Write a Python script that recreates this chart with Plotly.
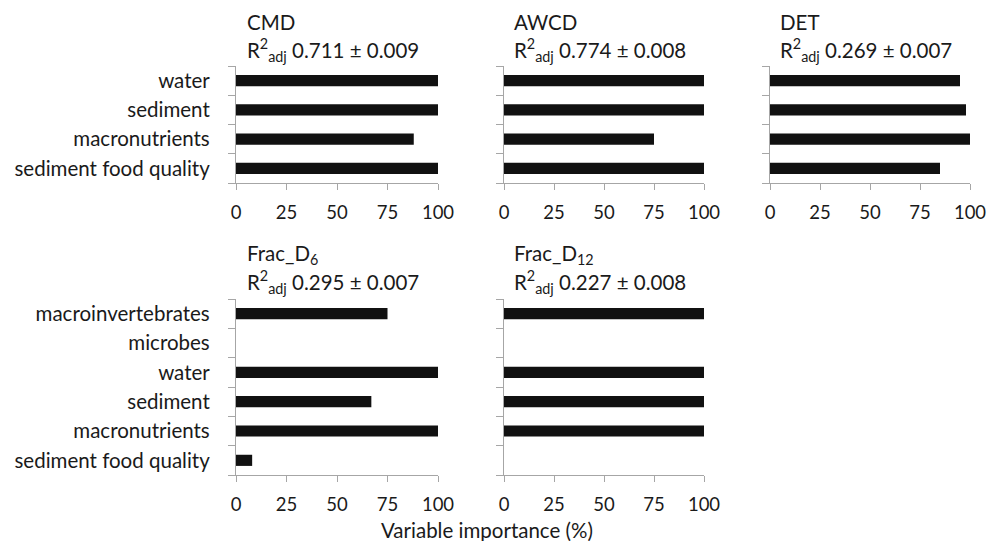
import plotly.graph_objects as go

W, H = 987, 541

cats_top = ["water", "sediment", "macronutrients", "sediment food quality"]
cats_bot = ["macroinvertebrates", "microbes", "water", "sediment", "macronutrients", "sediment food quality"]

cmd_vals = [100, 100, 88, 100]
awcd_vals = [100, 100, 75, 100]
det_vals = [95, 98, 100, 85]
d6_vals = [75, 0, 100, 67, 100, 8]
d12_vals = [100, 0, 100, 100, 100, 0]

names = ["CMD", "AWCD", "DET", "Frac_D<sub>6</sub>", "Frac_D<sub>12</sub>"]
r2 = ["0.711 ± 0.009", "0.774 ± 0.008", "0.269 ± 0.007", "0.295 ± 0.007", "0.227 ± 0.008"]
x_ticks = [0, 25, 50, 75, 100]

FONT = "Lato, Open Sans, sans-serif"
FS = 20.5
FSX = 18.5
TXT = "#1a1a1a"
AX = "#a6a6a6"

# panel pixel boxes: (x0, x1, ytop, ybottom)
panels = [
    (236, 438, 66, 183, cats_top, cmd_vals, True),
    (504, 704, 66, 183, cats_top, awcd_vals, False),
    (770, 970, 66, 183, cats_top, det_vals, False),
    (236, 438, 299, 475, cats_bot, d6_vals, True),
    (504, 704, 299, 475, cats_bot, d12_vals, False),
]

fig = go.Figure()
layout = {}
for i, (x0, x1, yt, yb, cats, vals, showlab) in enumerate(panels):
    k = "" if i == 0 else str(i + 1)
    fig.add_trace(go.Bar(
        x=vals, y=cats, orientation="h",
        marker=dict(color="#111111", line=dict(width=0)),
        width=0.38, xaxis="x" + k, yaxis="y" + k, showlegend=False,
    ))
    layout["xaxis" + k] = dict(
        domain=[x0 / W, x1 / W], anchor="y" + k, range=[0, 100],
        tickvals=x_ticks, ticks="outside", ticklen=6, tickcolor=AX,
        showline=True, linecolor=AX, linewidth=1.3, showgrid=False, zeroline=False,
        tickfont=dict(family=FONT, size=FSX, color=TXT), ticklabelstandoff=7,
        automargin=False,
    )
    layout["yaxis" + k] = dict(
        domain=[1 - yb / H, 1 - yt / H], anchor="x" + k,
        type="category", categoryorder="array", categoryarray=list(reversed(cats)),
        range=[-0.5, len(cats) - 0.5],
        tickson="boundaries", ticks="outside", ticklen=7, tickcolor=AX,
        showline=True, linecolor=AX, linewidth=1.3, showgrid=False, zeroline=False,
        showticklabels=showlab, automargin=False,
        tickfont=dict(family=FONT, size=FS, color=TXT), ticklabelstandoff=21,
    )

ann = []
title_pos = [(245, 22, 50), (512, 22, 50), (778, 22, 50), (245, 255, 282), (512, 255, 282)]
for (tx, ty1, ty2), nm, rv in zip(title_pos, names, r2):
    ann.append(dict(x=tx / W, y=1 - ty1 / H, xref="paper", yref="paper", text=nm,
                    showarrow=False, xanchor="left", yanchor="middle",
                    font=dict(family=FONT, size=FS, color=TXT)))
    ann.append(dict(x=tx / W, y=1 - ty2 / H, xref="paper", yref="paper",
                    text="R<sup>2</sup><sub>adj</sub> " + rv,
                    showarrow=False, xanchor="left", yanchor="middle",
                    font=dict(family=FONT, size=FS, color=TXT)))
ann.append(dict(x=487 / W, y=1 - 530 / H, xref="paper", yref="paper",
                text="Variable importance (%)", showarrow=False,
                xanchor="center", yanchor="middle",
                font=dict(family=FONT, size=FS, color=TXT)))

fig.update_layout(
    width=W, height=H, margin=dict(l=0, r=0, t=0, b=0),
    paper_bgcolor="white", plot_bgcolor="white",
    annotations=ann, bargap=0.62, **layout,
)

fig.write_html("out.html", config={"displayModeBar": False},
               post_script="document.body.style.margin='0';")
